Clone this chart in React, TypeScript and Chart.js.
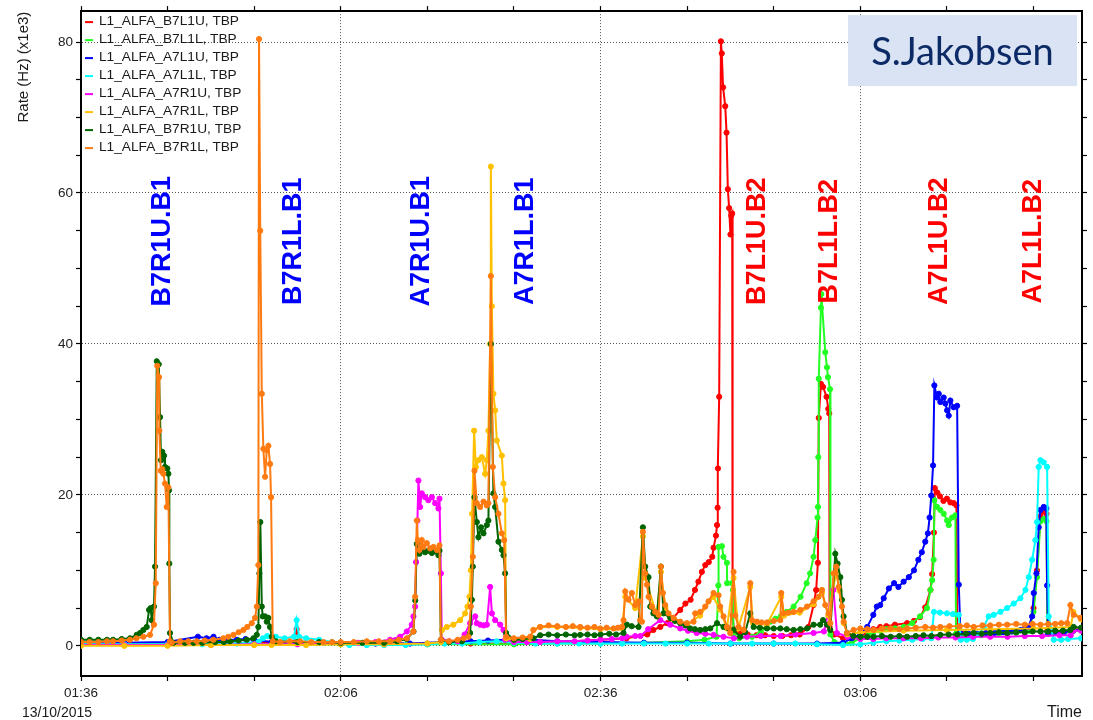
import React, { useEffect, useRef } from 'react';
import { Chart, registerables } from 'chart.js';

Chart.register(...registerables);

type Pt = [number, number];

// time axis: minutes after 01:36 on 13/10/2015 ; values: rate in kHz (x1e3)
const START_MINUTES = 96; // 01:36
const DATE_LABEL = '13/10/2015';
const X_MIN = 0;
const X_MAX = 115.6;
const Y_MIN = -4;
const Y_MAX = 84.1;
const X_TICKS = [0, 10, 20, 30, 40, 50, 60, 70, 80, 90, 100, 110];
const X_LABEL_EVERY = 30;
const Y_TICKS = [0, 5, 10, 15, 20, 25, 30, 35, 40, 45, 50, 55, 60, 65, 70, 75, 80];
const Y_LABEL_EVERY = 20;
const Y_TITLE = 'Rate (Hz) (x1e3)';
const X_TITLE = 'Time';

const SERIES_NAMES = [
  'L1_ALFA_B7L1U, TBP',
  'L1_ALFA_B7L1L, TBP',
  'L1_ALFA_A7L1U, TBP',
  'L1_ALFA_A7L1L, TBP',
  'L1_ALFA_A7R1U, TBP',
  'L1_ALFA_A7R1L, TBP',
  'L1_ALFA_B7R1U, TBP',
  'L1_ALFA_B7R1L, TBP',
];
const SERIES_COLORS = ['#ff0000', '#22ff22', '#0000ff', '#00ffff', '#ff00ff', '#ffc000', '#006400', '#ff7a10'];

const B7L1U: Pt[] = [
  [0, 0.3], [5, 0.3], [10, 0.3], [15, 0.3], [20, 0.4], [24.6, 0.4], [24.9, 2.2], [25.2, 0.5], [30, 0.3],
  [35, 0.3], [40, 0.3], [45, 0.3], [50, 0.3], [55, 0.5], [60, 0.8], [63, 1.0], [65.4, 1.5], [66.1, 2.1],
  [66.9, 2.5], [67.7, 3.0], [68.4, 3.7], [69.2, 4.75], [69.8, 5.6], [70.4, 6.1], [70.9, 7.4], [71.3, 8.5],
  [71.7, 9.8], [72.1, 10.7], [72.5, 11.1], [72.9, 11.8], [73.05, 13], [73.33, 14.6], [73.45, 16], [73.52, 18.3],
  [73.56, 23.5], [73.7, 33], [73.9, 80.1], [74.0, 78.5], [74.15, 74], [74.4, 71.5], [74.55, 68], [74.7, 60.5],
  [74.85, 58], [75.0, 54.5], [75.1, 57], [75.2, 57.3], [75.25, 4], [75.4, 2.2], [76, 1.8], [77, 1.5], [78, 1.4],
  [79, 1.4], [80, 1.3], [81, 1.3], [82, 1.4], [83, 1.5], [84, 2.5], [84.6, 5.4], [84.9, 7.4], [85.1, 11],
  [85.2, 30.2], [85.45, 34.7], [85.7, 34.3], [86.1, 33], [86.3, 31.4], [86.41, 30.8], [86.45, 2.5], [87, 1.5],
  [88, 1.0], [89, 0.8], [90, 1.2], [91, 1.9], [91.5, 2.2], [92.3, 2.5], [93, 2.6], [94, 2.8], [95.4, 3.0],
  [96.2, 3.3], [96.9, 3.8], [97.5, 5.1], [98.1, 7.4], [98.3, 9.5], [98.5, 15], [98.6, 20.9], [98.9, 20.3],
  [99.2, 19.8], [99.6, 19.2], [100.0, 19.5], [100.4, 19.0], [100.8, 18.9], [101.1, 18.6], [101.2, 1.8],
  [102, 1.6], [103, 1.6], [104, 1.6], [105, 1.7], [106, 1.8], [107, 1.8], [108, 1.9], [109, 2.1], [109.5, 2.2],
  [110, 5], [110.4, 10], [110.8, 17.2], [111.2, 17.8], [111.5, 17.5], [111.6, 2], [112.5, 1.8], [113.5, 1.9],
  [114.3, 2.0], [115.5, 2.3],
];

const B7L1L: Pt[] = [
  [0, 0.2], [10, 0.2], [20, 0.2], [30, 0.2], [40, 0.2], [50, 0.2], [55, 0.3], [60, 0.3], [65, 0.4], [70, 0.6],
  [72, 0.8], [73.4, 1.2], [73.6, 8], [73.63, 13.1], [74.02, 13.2], [74.2, 11.8], [74.59, 11], [74.62, 8.3],
  [75.17, 8.3], [75.29, 7.4], [75.35, 1.5], [76, 1.0], [77.5, 1.2], [78.5, 1.8], [79.2, 2.5], [79.6, 3.2],
  [80.2, 3.6], [80.8, 3.9], [81.5, 4.5], [82.3, 5.2], [83.1, 6.5], [83.8, 8.3], [84.2, 9.6], [84.6, 11.8],
  [84.8, 14], [85.06, 17], [85.11, 18.4], [85.15, 25], [85.2, 35.4], [85.45, 44.8], [85.5, 46.6],
  [85.95, 38.9], [86.15, 36.9], [86.26, 35.6], [86.5, 34], [86.55, 1.5], [87, 0.5], [88, 0.3], [89, 0.4],
  [90, 1.0], [91, 1.5], [91.5, 1.8], [92.3, 2.0], [93, 2.2], [94, 2.3], [95, 2.5], [96, 3.0], [96.9, 3.9],
  [97.7, 5.0], [98.1, 7.4], [98.3, 8.7], [98.47, 11.4], [98.55, 19.3], [98.86, 18.4], [99.24, 18.0],
  [99.63, 17.5], [100.02, 16.6], [100.21, 16.0], [100.59, 17.0], [100.98, 17.3], [101.05, 1.6], [102, 1.4],
  [103, 1.4], [104, 1.4], [105, 1.5], [106, 1.6], [107, 1.6], [108, 1.7], [109, 1.9], [109.5, 2.0], [110, 4.5],
  [110.4, 9.1], [110.8, 16.5], [111.2, 16.8], [111.5, 16.5], [111.6, 1.8], [112.5, 1.7], [113.5, 1.7],
  [114.5, 1.9], [115.5, 2.0],
];

const A7L1U: Pt[] = [
  [0, 0.4], [5, 0.4], [10, 0.5], [13.5, 1.2], [14.5, 1.0], [15.3, 1.2], [16, 0.8], [18, 0.8], [19, 0.9],
  [20, 0.8], [22, 0.5], [25, 0.4], [30, 0.3], [34, 0.3], [38, 0.3], [42, 0.5], [45, 0.6], [47, 0.7],
  [49.2, 0.8], [50.5, 0.8], [52, 0.8], [55, 0.6], [60, 0.5], [65, 0.4], [70, 0.4], [75, 0.3], [80, 0.3],
  [85, 0.3], [88, 0.4], [89, 1.0], [90, 1.5], [90.8, 2.5], [91.5, 4.1], [91.9, 5.2], [92.3, 5.4], [92.7, 6.3],
  [93.3, 7.6], [93.9, 8.3], [94.4, 7.8], [95.0, 8.5], [95.6, 9.1], [96.2, 10], [96.7, 11.4], [97.1, 12.4],
  [97.5, 13.8], [97.8, 14.9], [98.0, 17], [98.2, 19.9], [98.4, 23.9], [98.55, 34.5], [98.86, 32.9],
  [99.06, 33.4], [99.24, 32.3], [99.63, 32.9], [99.82, 32.1], [100.02, 31.2], [100.21, 30.5], [100.4, 32.5],
  [100.79, 31.6], [101.18, 31.8], [101.37, 8.1], [101.56, 1.7], [102.5, 1.6], [103.5, 1.6], [104.5, 1.7],
  [105.5, 1.7], [106.5, 1.8], [107.5, 1.9], [108.5, 2.1], [109, 2.3], [109.45, 2.5], [109.84, 3.9],
  [110.03, 7.0], [110.34, 9.6], [110.6, 15.7], [110.8, 18.0], [111.18, 18.4], [111.49, 18.2], [111.57, 8],
  [111.7, 1.6], [112.5, 1.7], [113.5, 1.8], [114.6, 2.0], [115.5, 2.2],
];

const A7L1L: Pt[] = [
  [0, 0.2], [5, 0.2], [10, 0.2], [14, 0.2], [18, 0.3], [20.5, 0.5], [21, 1.0], [21.5, 1.3], [22.5, 1.2],
  [23.5, 1.0], [24.6, 1.2], [24.9, 3.4], [25.2, 1.2], [26, 1.0], [27.5, 0.8], [29, 0.5], [31, 0.1], [33, 0.1],
  [35, 0.1], [37.5, 0.1], [40, 0.2], [42, 0.3], [44, 0.3], [46, 0.5], [48, 0.6], [50, 0.4], [52.5, 0.3],
  [55, 0.3], [57.5, 0.3], [60, 0.3], [62.5, 0.3], [65, 0.3], [67.5, 0.3], [70, 0.3], [72.5, 0.3], [75, 0.3],
  [77.5, 0.3], [80, 0.3], [82.5, 0.3], [85, 0.2], [88, 0.1], [90, 0.2], [91.5, 0.4], [93, 0.6], [94.5, 0.7],
  [96, 0.8], [97.2, 0.9], [98.2, 1.0], [98.5, 4.5], [99.2, 4.4], [100, 4.3], [100.7, 4.2], [101.37, 4.1],
  [101.6, 0.8], [102.3, 0.8], [103, 0.9], [103.7, 1.5], [104.25, 2.5], [104.83, 3.9], [105.41, 4.1],
  [106.18, 4.5], [106.95, 5.0], [107.72, 5.6], [108.49, 6.3], [109.07, 7.4], [109.45, 9.1], [109.84, 11.4],
  [110.22, 14], [110.41, 16.4], [110.6, 23.7], [110.8, 24.6], [111.18, 24.3], [111.57, 23.7], [111.76, 3.9],
  [112.33, 0.8], [113.2, 0.8], [114, 0.9], [115.5, 1.0],
];

const A7R1U: Pt[] = [
  [0, 0.1], [5, 0.1], [10, 0.1], [15, 0.1], [20, 0.2], [25, 0.2], [30, 0.3], [32, 0.4], [34, 0.5],
  [35.7, 0.8], [36.85, 1.2], [37.63, 1.9], [38.2, 2.8], [38.39, 3.9], [38.59, 5.2], [38.7, 11.1],
  [38.85, 16.6], [38.97, 21.9], [39.16, 18.4], [39.36, 20.2], [39.74, 19.7], [40.12, 19.3], [40.52, 19.7],
  [40.9, 18.9], [41.28, 18.2], [41.4, 19.5], [41.56, 9.6], [41.67, 0.8], [42.5, 0.6], [43.5, 0.6],
  [44.3, 1.5], [44.94, 3.0], [45.52, 3.9], [45.71, 3.0], [46.1, 2.8], [46.5, 2.7], [46.87, 2.8], [47.25, 7.8],
  [47.45, 4.3], [47.83, 3.4], [48.41, 2.8], [48.79, 2.1], [48.98, 0.8], [50, 0.5], [51.5, 0.5], [53, 0.5],
  [55, 0.6], [57, 0.6], [58.5, 0.7], [60, 0.8], [61.3, 0.9], [62.5, 1.0], [63, 1.2], [64, 1.3], [64.6, 1.3],
  [65.5, 2.2], [66.9, 3.4], [68.05, 2.8], [69.2, 2.3], [70.1, 2.0], [71.1, 1.7], [72.1, 1.6], [73.05, 1.45],
  [74.2, 1.2], [75.4, 1.0], [76.9, 1.2], [78.5, 1.3], [80.8, 1.3], [82.5, 1.5], [84.6, 1.7], [85.8, 1.9],
  [86.9, 7.4], [87.3, 1.7], [88.5, 1.2], [90, 0.9], [91.5, 0.9], [93, 1.0], [95, 1.0], [97, 1.0], [99, 1.1],
  [101, 1.1], [103, 1.2], [105, 1.2], [107, 1.2], [109, 1.3], [111, 1.3], [113, 1.4], [114.3, 1.4],
  [114.6, 2.0], [115.5, 2.0],
];

const A7R1L: Pt[] = [
  [0, 0.0], [5, 0.0], [10, 0.0], [15, 0.1], [20, 0.1], [22, 0.1], [26, 0.1], [30, 0.2], [35, 0.2], [40, 0.3],
  [41.56, 0.5], [41.7, 2.1], [42.25, 2.5], [43.0, 2.8], [43.79, 3.4], [44.36, 4.3], [44.63, 5.2],
  [44.86, 6.5], [45.02, 10], [45.17, 17.5], [45.4, 28.5], [45.6, 23.7], [45.9, 24.6], [46.29, 25],
  [46.67, 22.8], [46.87, 24.6], [47.05, 28.5], [47.25, 40], [47.33, 63.5], [47.45, 45], [47.63, 33.4],
  [47.83, 31.2], [48.02, 27.2], [48.6, 25.2], [48.79, 21.5], [48.98, 19.3], [49.1, 1.0], [50, 0.8],
  [51.87, 0.9], [52.25, 2.1], [53.03, 2.5], [55, 2.5], [57.65, 2.4], [60, 2.2], [62.5, 2.3], [62.85, 6.5],
  [64.0, 5.0], [64.89, 14.5], [65.16, 9.0], [66.5, 4.0], [66.97, 9.8], [67.5, 5.0], [68.4, 3.5], [70, 2.8],
  [71.5, 4.0], [73, 6.5], [73.8, 4.8], [74.6, 2.3], [75.36, 9.0], [75.9, 2.3], [77.29, 7.8], [77.6, 3.0],
  [79.2, 2.8], [80.87, 6.5], [81.2, 4.0], [83, 4.4], [84.6, 5.5], [85.57, 7.0], [86.3, 4.0], [87.22, 9.8],
  [87.6, 7.3], [88.1, 3.0], [88.5, 1.5], [90, 1.8], [95, 2.0], [100, 2.1], [105, 2.2], [110, 2.3],
  [114.3, 2.5], [114.6, 4.5], [115.5, 3.5],
];

const B7R1U: Pt[] = [
  [0, 0.8], [1, 0.8], [2, 0.8], [3, 0.8], [3.7, 0.8], [4.7, 0.9], [5.66, 1.0], [6.43, 1.45], [6.82, 1.7],
  [7.2, 2.1], [7.59, 2.5], [7.86, 4.75], [8.05, 5.0], [8.17, 3.4], [8.43, 5.2], [8.55, 10.5], [8.75, 37.7],
  [8.98, 37.3], [9.13, 30.3], [9.24, 24.6], [9.39, 25.7], [9.59, 25.2], [9.7, 23.7], [9.97, 23.5],
  [10.09, 22.8], [10.17, 20.6], [10.2, 10.9], [10.28, 1.7], [10.66, 0.4], [12, 0.4], [13, 0.4], [14, 0.4],
  [15.5, 0.5], [16.5, 0.5], [17.21, 0.6], [18.2, 0.7], [19.14, 0.8], [19.91, 1.0], [20.3, 1.45], [20.48, 2.5],
  [20.6, 9.6], [20.71, 16.4], [20.88, 5.2], [20.99, 3.9], [21.26, 3.9], [21.45, 3.2], [21.64, 3.7],
  [21.83, 2.5], [22.03, 1.2], [22.5, 0.6], [25, 0.5], [27.5, 0.5], [30, 0.4], [32.5, 0.4], [35, 0.4],
  [36.5, 0.6], [37.6, 0.9], [38.4, 1.9], [38.6, 6], [38.78, 13.5], [39.08, 12.2], [39.36, 12.8],
  [39.74, 12.4], [40.12, 12.6], [40.52, 12.3], [40.9, 12.5], [41.28, 12.0], [41.4, 12.6], [41.56, 0.8],
  [42.5, 0.5], [44, 0.6], [44.94, 1.7], [45.14, 6.1], [45.25, 10.5], [45.44, 19.7], [45.71, 16.4],
  [45.9, 14.4], [46.21, 15.7], [46.48, 14.9], [46.87, 16.0], [47.05, 16.6], [47.33, 40.0], [47.63, 20.2],
  [47.83, 18.4], [48.21, 13.8], [48.6, 12.7], [48.79, 12.0], [48.98, 9.6], [49.1, 1.7], [50, 0.8],
  [51, 0.9], [52.25, 1.0], [53.03, 1.4], [54, 1.5], [55, 1.4], [56, 1.5], [57, 1.4], [57.65, 1.45],
  [58.5, 1.5], [59.3, 1.4], [60, 1.5], [61, 1.6], [61.8, 1.5], [62.65, 1.7], [63.04, 2.8], [63.6, 2.6],
  [64.39, 2.5], [64.89, 15.7], [65.16, 10.5], [65.54, 9.1], [65.74, 5.2], [66.1, 4.3], [66.51, 3.9],
  [66.97, 10.5], [67.27, 4.3], [68.05, 3.7], [68.6, 3.3], [69.2, 3.0], [69.8, 2.7], [70.36, 2.3],
  [70.9, 2.2], [71.51, 2.1], [72.1, 2.2], [72.67, 2.3], [73.45, 3.0], [74.2, 2.5], [74.8, 2.3], [75.36, 2.1],
  [76.13, 1.2], [76.7, 1.8], [77.29, 4.3], [77.68, 2.5], [78.4, 2.4], [79.22, 2.3], [80, 2.3], [80.76, 2.3],
  [81.5, 2.2], [82.29, 2.1], [83.07, 2.2], [83.84, 2.3], [84.6, 2.8], [85.37, 2.8], [85.69, 3.4],
  [86.15, 2.8], [86.53, 2.1], [87.11, 12.2], [87.37, 10.9], [87.69, 9.1], [87.88, 6.1], [88.07, 3.9],
  [88.46, 1.7], [89.2, 1.3], [90, 1.2], [90.8, 1.2], [91.54, 1.2], [92.5, 1.3], [93.5, 1.2], [94.5, 1.3],
  [95.4, 1.2], [96.4, 1.3], [97.3, 1.4], [98.2, 1.3], [99.24, 1.45], [100.2, 1.5], [101.2, 1.5],
  [102.2, 1.6], [103.1, 1.7], [104, 1.6], [105, 1.7], [106, 1.8], [106.95, 1.7], [108, 1.8], [109, 1.8],
  [109.9, 1.9], [110.8, 1.9], [111.7, 1.9], [112.5, 2.0], [113.4, 2.0], [114.26, 2.1], [114.64, 2.5],
  [115.5, 2.4],
];

const B7R1L: Pt[] = [
  [0, 0.5], [1, 0.5], [2, 0.5], [3, 0.6], [3.7, 0.6], [4.7, 0.7], [5.66, 0.8], [6.4, 1.0], [7.2, 1.2],
  [7.97, 1.45], [8.43, 2.8], [8.63, 8.3], [8.81, 37.1], [9.01, 35.6], [9.05, 28.5], [9.21, 23.2], [9.39, 23.4],
  [9.51, 22.8], [9.7, 21.5], [9.9, 18.4], [10.09, 21], [10.28, 0.6], [10.48, 0.4], [11.44, 0.6], [12.4, 0.6],
  [13.37, 0.6], [14.3, 0.7], [15.28, 0.8], [16.44, 1.0], [17.0, 1.2], [17.6, 1.45], [18.2, 1.8], [18.75, 2.1],
  [19.2, 2.5], [19.72, 3.0], [20.1, 3.7], [20.3, 5.2], [20.48, 10.7], [20.56, 80.4], [20.7, 55], [20.88, 33.4],
  [21.06, 26.1], [21.26, 22.4], [21.45, 25.9], [21.64, 26.5], [21.83, 24.1], [21.95, 19.7], [22.15, 0.6],
  [23, 0.5], [24.1, 0.6], [25.3, 0.6], [26.6, 0.5], [28, 0.5], [29, 0.5], [30, 0.5], [31.5, 0.5], [33, 0.6],
  [34.4, 0.6], [35.7, 0.6], [36.7, 0.8], [37.63, 1.0], [38.39, 1.9], [38.59, 6.5], [38.78, 16.6], [38.9, 14],
  [39.08, 12.7], [39.36, 14], [39.55, 13.1], [39.94, 13.6], [40.32, 12.9], [40.7, 13.1], [41.1, 12.7],
  [41.4, 13.3], [41.56, 0.8], [42.5, 0.6], [43.5, 0.8], [44.2, 1.0], [44.74, 1.2], [45.02, 5.2], [45.25, 11.8],
  [45.44, 23.2], [45.71, 18.9], [46.1, 18.4], [46.48, 19.1], [46.87, 18.6], [47.05, 18.9], [47.33, 49],
  [47.56, 23.7], [47.83, 19.7], [48.21, 17.5], [48.6, 14.9], [48.87, 14.0], [49.1, 1.2], [50, 1.0],
  [51, 1.1], [51.87, 1.2], [52.25, 2.1], [53.03, 2.5], [54, 2.7], [55, 2.6], [56, 2.5], [56.8, 2.6],
  [57.65, 2.5], [58.5, 2.4], [59.3, 2.5], [59.96, 2.3], [60.7, 2.4], [61.5, 2.3], [62.0, 2.4], [62.47, 2.5],
  [62.65, 3.4], [62.85, 7.2], [63.23, 6.1], [63.62, 7.0], [64.0, 5.4], [64.39, 5.9], [64.58, 3.4],
  [64.78, 3.2], [64.89, 15.1], [65.16, 9.6], [65.36, 8.1], [65.54, 6.5], [65.93, 5.2], [66.31, 4.5],
  [66.7, 4.1], [66.97, 10.5], [67.2, 7.0], [67.47, 5.4], [67.85, 4.3], [68.43, 3.7], [69.2, 3.2],
  [69.97, 3.0], [70.74, 3.2], [70.93, 4.3], [71.51, 4.5], [72.09, 5.2], [72.47, 5.9], [73.05, 7.0],
  [73.63, 6.7], [73.82, 5.2], [74.2, 3.9], [74.59, 2.5], [74.98, 1.7], [75.36, 9.8], [75.56, 4.0],
  [75.94, 2.5], [76.52, 2.1], [77.29, 8.3], [77.48, 3.4], [78.07, 3.2], [78.6, 3.1], [79.22, 3.1],
  [80.0, 3.3], [80.76, 3.4], [80.87, 7.0], [81.14, 4.3], [81.7, 4.4], [82.29, 4.5], [83.07, 4.75],
  [83.84, 5.2], [84.6, 5.9], [85.18, 6.5], [85.57, 7.4], [85.95, 5.4], [86.33, 4.3], [86.53, 3.0],
  [86.91, 9.6], [87.22, 10.5], [87.49, 7.8], [87.88, 5.2], [88.07, 3.2], [88.46, 1.7], [89.22, 2.1],
  [90, 2.3], [90.8, 2.2], [91.54, 2.1], [92.5, 2.3], [93.5, 2.3], [94.5, 2.2], [95.4, 2.3], [96.4, 2.4],
  [97.5, 2.5], [98.4, 2.4], [99.24, 2.5], [100.3, 2.6], [101.5, 2.6], [102.3, 2.7], [103.1, 2.5],
  [104.1, 2.7], [105, 2.7], [106, 2.8], [106.95, 2.8], [108, 2.9], [109, 2.8], [109.9, 2.9], [110.8, 2.8],
  [111.7, 2.9], [112.5, 2.9], [113.2, 3.0], [113.88, 3.0], [114.26, 5.4], [114.64, 4.1], [115.42, 3.7],
];

const SERIES_DATA: Pt[][] = [B7L1U, B7L1L, A7L1U, A7L1L, A7R1U, A7R1L, B7R1U, B7R1L];

const ANNOTATION_TEXTS = ['B7R1U.B1', 'B7R1L.B1', 'A7R1U.B1', 'A7R1L.B1', 'B7L1U.B2', 'B7L1L.B2', 'A7L1U.B2', 'A7L1L.B2'];
const ANNOTATION_TIMES = [9.13, 24.26, 39.05, 51.1, 77.87, 86.18, 98.89, 109.75];
const ANNOTATION_COLORS = ['#0000ff', '#0000ff', '#0000ff', '#0000ff', '#ff0000', '#ff0000', '#ff0000', '#ff0000'];
const ANNOTATION_LEVEL = 53.6;
const SIGNATURE = 'S.Jakobsen';

const FONT = '"Liberation Sans", Arial, Helvetica, sans-serif';

function pad2(n: number) {
  return (n < 10 ? '0' : '') + n;
}
function timeLabel(v: number) {
  const total = START_MINUTES + v;
  const h = Math.floor(total / 60);
  const m = Math.round(total % 60);
  return pad2(h) + ':' + pad2(m);
}

const overlayPlugin = {
  id: 'overlay',
  afterDatasetsDraw(chart: any) {
    const { ctx, chartArea: a, scales } = chart;
    const xs = scales.x;
    const ys = scales.y;
    ctx.save();
    const fs = 27;
    ctx.font = `bold ${fs}px ${FONT}`;
    ctx.textAlign = 'center';
    ctx.textBaseline = 'alphabetic';
    ANNOTATION_TEXTS.forEach((t, i) => {
      const cx = xs.getPixelForValue(ANNOTATION_TIMES[i]);
      const cy = ys.getPixelForValue(ANNOTATION_LEVEL);
      ctx.save();
      ctx.translate(cx + (fs * 0.716) / 2, cy);
      ctx.rotate(-Math.PI / 2);
      ctx.fillStyle = ANNOTATION_COLORS[i];
      ctx.fillText(t, 0, 0);
      ctx.restore();
    });
    // legend
    ctx.font = `13.7px ${FONT}`;
    ctx.textAlign = 'left';
    ctx.textBaseline = 'middle';
    SERIES_NAMES.forEach((n, i) => {
      const y = a.top + 10.5 + i * 18.0;
      ctx.strokeStyle = SERIES_COLORS[i];
      ctx.lineWidth = 2;
      ctx.beginPath();
      ctx.moveTo(a.left + 4, y + 0.5);
      ctx.lineTo(a.left + 12, y + 0.5);
      ctx.stroke();
      ctx.fillStyle = '#1a1a1a';
      ctx.fillText(n, a.left + 18, y);
    });
    ctx.restore();
  },
  afterDraw(chart: any) {
    const { ctx, chartArea: a, height } = chart;
    ctx.save();
    // signature box
    ctx.fillStyle = '#dae3f3';
    ctx.fillRect(a.right - 234, a.top + 4, 229, 71);
    ctx.fillStyle = '#0b2a66';
    ctx.font = '38px Lato, "Open Sans", sans-serif';
    ctx.textAlign = 'center';
    ctx.textBaseline = 'alphabetic';
    ctx.fillText(SIGNATURE, a.right - 234 + 114.5, a.top + 54);
    // axis titles
    ctx.fillStyle = '#1a1a1a';
    ctx.font = `15px ${FONT}`;
    ctx.save();
    ctx.translate(24, a.top + 56);
    ctx.rotate(-Math.PI / 2);
    ctx.textAlign = 'center';
    ctx.textBaseline = 'middle';
    ctx.fillText(Y_TITLE, 0, 0);
    ctx.restore();
    ctx.font = `16px ${FONT}`;
    ctx.textAlign = 'right';
    ctx.fillText(X_TITLE, a.right, height - 3.5);
    ctx.font = `14px ${FONT}`;
    ctx.textAlign = 'left';
    ctx.fillText(DATE_LABEL, 22, height - 3.5);
    ctx.restore();
  },
};

export default function App() {
  const ref = useRef<HTMLCanvasElement>(null);
  useEffect(() => {
    const canvas = ref.current;
    if (!canvas) return;
    const datasets = SERIES_DATA.map((d, i) => ({
      label: SERIES_NAMES[i],
      data: d.map(([x, y]) => ({ x, y })),
      borderColor: SERIES_COLORS[i],
      backgroundColor: SERIES_COLORS[i],
      pointBackgroundColor: SERIES_COLORS[i],
      pointBorderColor: SERIES_COLORS[i],
      borderWidth: 2,
      pointRadius: 2.6,
      pointBorderWidth: 1,
      tension: 0,
      fill: false,
      order: SERIES_DATA.length - i,
    }));
    const gridStyle = {
      color: '#000',
      tickColor: '#000',
      tickLength: 5,
      tickWidth: 1.2,
      drawOnChartArea: false,
    };
    const chart = new Chart(canvas, {
      type: 'line',
      data: { datasets },
      plugins: [overlayPlugin],
      options: {
        animation: false,
        responsive: false,
        devicePixelRatio: 1,
        layout: { padding: 0 },
        plugins: { legend: { display: false }, tooltip: { enabled: false } },
        scales: {
          x: {
            type: 'linear',
            position: 'bottom',
            min: X_MIN,
            max: X_MAX,
            afterBuildTicks: (s: any) => {
              s.ticks = X_TICKS.map((v) => ({ value: v }));
            },
            afterFit: (s: any) => {
              s.height = 44;
            },
            ticks: {
              autoSkip: false,
              maxRotation: 0,
              padding: 4,
              color: '#222',
              font: { size: 13.5, family: FONT },
              callback: (v: any) => (Number(v) % X_LABEL_EVERY === 0 ? timeLabel(Number(v)) : ''),
            },
            grid: {
              color: (c: any) => (c.tick && c.tick.value % X_LABEL_EVERY === 0 && c.tick.value > 0 ? '#555' : 'rgba(0,0,0,0)'),
              lineWidth: 1,
              tickColor: '#000',
              tickLength: 5,
              tickWidth: 1.2,
            },
            border: { color: '#000', width: 2, dash: [1, 2] },
          },
          xTop: {
            type: 'linear',
            position: 'top',
            min: X_MIN,
            max: X_MAX,
            afterBuildTicks: (s: any) => {
              s.ticks = X_TICKS.map((v) => ({ value: v }));
            },
            afterFit: (s: any) => {
              s.height = 9;
            },
            ticks: { display: false },
            grid: gridStyle,
            border: { color: '#000', width: 2 },
          },
          y: {
            type: 'linear',
            position: 'left',
            min: Y_MIN,
            max: Y_MAX,
            afterBuildTicks: (s: any) => {
              s.ticks = Y_TICKS.map((v) => ({ value: v }));
            },
            afterFit: (s: any) => {
              s.width = 81;
            },
            ticks: {
              padding: 3,
              color: '#222',
              font: { size: 13.5, family: FONT },
              callback: (v: any) => (Number(v) % Y_LABEL_EVERY === 0 ? String(v) : ''),
            },
            grid: {
              color: (c: any) => (c.tick && c.tick.value % Y_LABEL_EVERY === 0 ? '#555' : 'rgba(0,0,0,0)'),
              lineWidth: 1,
              tickColor: '#000',
              tickLength: 5,
              tickWidth: 1.2,
            },
            border: { color: '#000', width: 2, dash: [1, 2] },
          },
          yRight: {
            type: 'linear',
            position: 'right',
            min: Y_MIN,
            max: Y_MAX,
            afterBuildTicks: (s: any) => {
              s.ticks = Y_TICKS.map((v) => ({ value: v }));
            },
            afterFit: (s: any) => {
              s.width = 11;
            },
            ticks: { display: false },
            grid: gridStyle,
            border: { color: '#000', width: 2 },
          },
        },
      } as any,
    });
    return () => chart.destroy();
  }, []);
  return (
    <div style={{ position: 'fixed', left: 0, top: 0, width: 1093, height: 720, background: '#fff' }}>
      <canvas ref={ref} width={1093} height={720} style={{ display: 'block' }} />
    </div>
  );
}
